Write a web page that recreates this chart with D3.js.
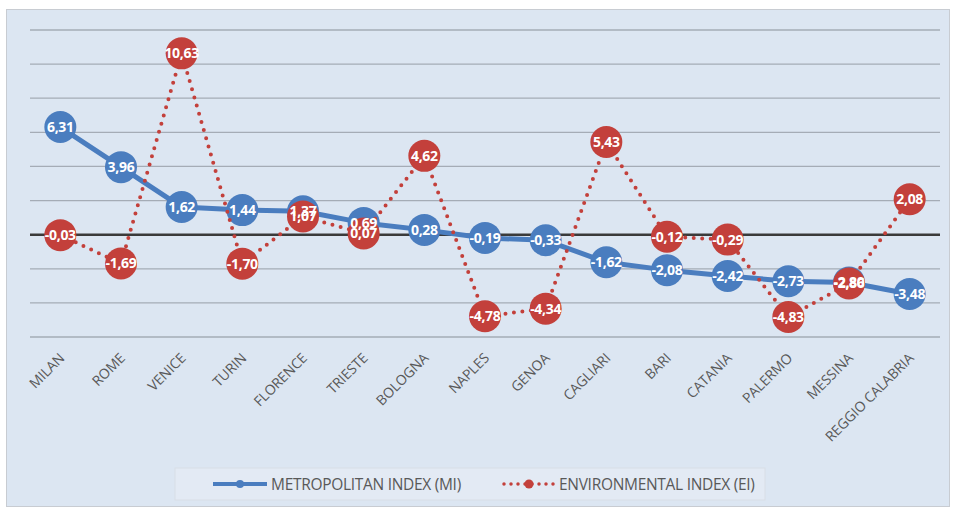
<!DOCTYPE html>
<html><head><meta charset="utf-8">
<script src="https://cdn.jsdelivr.net/npm/d3@7"></script>
<style>body{margin:0;background:#fff;}svg{display:block;}</style>
</head><body>
<script>
const cities = ["MILAN","ROME","VENICE","TURIN","FLORENCE","TRIESTE","BOLOGNA","NAPLES","GENOA","CAGLIARI","BARI","CATANIA","PALERMO","MESSINA","REGGIO CALABRIA"];
const miValues = [6.31,3.96,1.62,1.44,1.37,0.69,0.28,-0.19,-0.33,-1.62,-2.08,-2.42,-2.73,-2.80,-3.48];
const eiValues = [-0.03,-1.69,10.63,-1.70,1.07,0.07,4.62,-4.78,-4.34,5.43,-0.12,-0.29,-4.83,-2.86,2.08];
const yTicks = [-6,-4,-2,0,2,4,6,8,10,12];
const seriesNames = ["METROPOLITAN INDEX (MI)","ENVIRONMENTAL INDEX (EI)"];

const W=957,H=508;
const blue="#4a7dbf", red="#c3403b";
const svg=d3.select("body").append("svg").attr("width",W).attr("height",H);
svg.append("rect").attr("x",6.5).attr("y",9.5).attr("width",943).attr("height",497)
  .attr("fill","#dce6f2").attr("stroke","#c8ccd2");

const x=d3.scaleBand().domain(cities).range([30,940]);
const y=d3.scaleLinear().domain([-6,12]).range([337,30]);
const cx=d=>x(d)+x.bandwidth()/2;

// gridlines
svg.append("g").selectAll("line").data(yTicks.filter(t=>t!==0)).join("line")
  .attr("x1",30).attr("x2",940).attr("y1",d=>y(d)).attr("y2",d=>y(d))
  .attr("stroke","#a5acb6").attr("stroke-width",1.3);
svg.append("line").attr("x1",30).attr("x2",940).attr("y1",y(0)).attr("y2",y(0))
  .attr("stroke","#3a3a3a").attr("stroke-width",2.5);

// x labels
svg.append("g").selectAll("text").data(cities).join("text")
  .attr("transform",d=>`translate(${cx(d)+5},${359}) rotate(-45)`)
  .attr("text-anchor","end").attr("font-family","Open Sans, sans-serif")
  .attr("font-size",14).attr("fill","#595959").attr("letter-spacing",-0.1).text(d=>d);

const line=d3.line().x((d,i)=>cx(cities[i])).y(d=>y(d));
svg.append("path").datum(miValues).attr("d",line).attr("fill","none")
  .attr("stroke",blue).attr("stroke-width",5).attr("stroke-linejoin","round");
svg.append("g").selectAll("circle").data(miValues).join("circle")
  .attr("cx",(d,i)=>cx(cities[i])).attr("cy",d=>y(d)).attr("r",16).attr("fill",blue);
svg.append("path").datum(eiValues).attr("d",line).attr("fill","none")
  .attr("stroke",red).attr("stroke-width",4).attr("stroke-linecap","round")
  .attr("stroke-dasharray","0 8.5");
svg.append("g").selectAll("circle").data(eiValues).join("circle")
  .attr("cx",(d,i)=>cx(cities[i])).attr("cy",d=>y(d)).attr("r",16).attr("fill",red);

const fmt=v=>d3.format(".2f")(v).replace(".",",").replace("−","-");
function labels(vals){
  svg.append("g").selectAll("text").data(vals).join("text")
    .attr("x",(d,i)=>cx(cities[i])).attr("y",d=>y(d)+5)
    .attr("text-anchor","middle").attr("font-family","Open Sans, sans-serif")
    .attr("font-size",14).attr("font-weight","bold").attr("fill","#fff")
    .attr("letter-spacing",-0.3).text(d=>fmt(d));
}
labels(miValues); labels(eiValues);

// legend
const lg=svg.append("g");
lg.append("rect").attr("x",175).attr("y",468).attr("width",590).attr("height",32)
  .attr("fill","#e3eaf4").attr("stroke","#d8dee6");
lg.append("line").attr("x1",213).attr("x2",267).attr("y1",484).attr("y2",484)
  .attr("stroke",blue).attr("stroke-width",4);
lg.append("circle").attr("cx",240).attr("cy",484).attr("r",4).attr("fill",blue);
lg.append("text").attr("x",271).attr("y",489.5).attr("font-family","Open Sans, sans-serif")
  .attr("font-size",15.5).attr("fill","#595959").attr("letter-spacing",-0.3).text(seriesNames[0]);
lg.append("line").attr("x1",504).attr("x2",554).attr("y1",484).attr("y2",484)
  .attr("stroke",red).attr("stroke-width",3.5).attr("stroke-linecap","round").attr("stroke-dasharray","0 7");
lg.append("circle").attr("cx",529).attr("cy",484).attr("r",4.5).attr("fill",red);
lg.append("text").attr("x",559).attr("y",489.5).attr("font-family","Open Sans, sans-serif")
  .attr("font-size",15.5).attr("fill","#595959").attr("letter-spacing",-0.3).text(seriesNames[1]);
</script>
</body></html>
